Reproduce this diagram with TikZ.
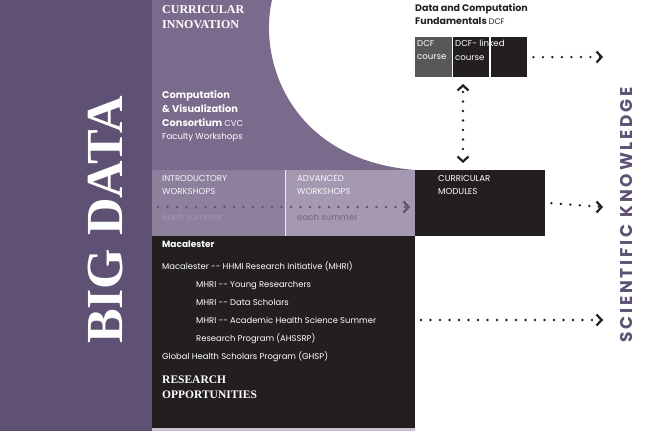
\documentclass[tikz,border=0pt]{standalone}
\usepackage{fontspec}
\setmainfont{Liberation Serif}
\newfontfamily\fut{Poppins}
\usetikzlibrary{arrows.meta,calc}
\definecolor{band}{HTML}{5E5173}
\definecolor{innov}{HTML}{7A6B8C}
\definecolor{intro}{HTML}{8D809D}
\definecolor{adv}{HTML}{A598B1}
\definecolor{blk}{HTML}{231F20}
\definecolor{gry}{HTML}{58575A}
\tikzset{
 dotline/.style={line width=2.6pt, line cap=round, dash pattern=on 0pt off 9.5pt, draw=blk},
 chev/.style={-{Straight Barb[length=5pt,width=11pt,line width=2.2pt]}, line width=2.2pt},
 wt/.style={text=white, anchor=north west, inner sep=0pt, align=left},
 body/.style={font=\fut\fontsize{8.6}{13.5}\selectfont},
}
\begin{document}
\begin{tikzpicture}[x=1pt,y=-1pt]
\useasboundingbox (0,0) rectangle (646,431);
\fill[band] (0,0) rectangle (152,431);
\fill[innov] (152,0) -- (272,0) .. controls (258,60) and (290,160) .. (415,170) -- (152,170) -- cycle;
\fill[intro] (152,170) rectangle (285,236);
\fill[adv] (285,170) rectangle (415,236);
\draw[white!80!adv, line width=0.8pt] (285,170) -- (285,236);
\fill[blk] (152,236) rectangle (415,428);
\fill[adv!60] (152,428) rectangle (415,431);
\node[fill=blk, minimum width=130pt, minimum height=66pt, anchor=north west, inner sep=0pt] (mod) at (415,170) {};
\node[wt, text=white, body] at (438,175) {CURRICULAR\\MODULES};
\node[fill=gry, minimum width=37pt, minimum height=40pt, anchor=north west, inner sep=0pt] (dcf) at (415,37) {};
\node[fill=blk, minimum width=36pt, minimum height=40pt, anchor=north west, inner sep=0pt] (lnk) at (453,37) {};
\node[fill=blk, minimum width=36pt, minimum height=40pt, anchor=north west, inner sep=0pt] (thr) at (491,37) {};
\node[wt, body] at (417,40) {DCF\\course};
\node[wt, body] at (455,40) {DCF- linked\\course};
\node[anchor=north west, inner sep=0pt, align=left, font=\fut\bfseries\fontsize{9.5}{13}\selectfont, text=blk] (dcft) at (415,4) {Data and Computation\\Fundamentals {\mdseries\fontsize{8}{13}\selectfont DCF}};
% texts
\node[wt, font=\bfseries\fontsize{12}{15}\selectfont] (ci) at (162,5) {CURRICULAR\\INNOVATION};
\node[wt, font=\fut\bfseries\fontsize{9.8}{14}\selectfont] (cvc) at (162,90) {Computation\\\& Visualization\\Consortium {\mdseries\fontsize{8.5}{14}\selectfont CVC}};
\node[wt, body] at (162,133) {Faculty Workshops};
\node[wt, body, text=white!92!intro] (iw) at (162,175) {INTRODUCTORY\\WORKSHOPS};
\node[wt, body, text=white!92!adv] (aw) at (297,175) {ADVANCED\\WORKSHOPS};
\node[wt, body, text=innov!70!white] at (162,214) {each summer};
\node[wt, body, text=intro!80!black] at (297,214) {each summer};
\node[wt, font=\fut\bfseries\fontsize{9}{12}\selectfont] (mac) at (162,241) {Macalester};
\node[wt, body, font=\fut\fontsize{8.4}{18.1}\selectfont] at (162,261) {Macalester -- HHMI Research Initiative (MHRI)\\
\hspace*{34pt}MHRI -- Young Researchers\\
\hspace*{34pt}MHRI -- Data Scholars\\
\hspace*{34pt}MHRI -- Academic Health Science Summer\\
\hspace*{34pt}Research Program (AHSSRP)\\
Global Health Scholars Program (GHSP)};
\node[wt, font=\bfseries\fontsize{11.5}{15}\selectfont] (ro) at (162,376) {RESEARCH\\OPPORTUNITIES};
\node[rotate=90, text=white, font=\bfseries\fontsize{52}{52}\selectfont, inner sep=0pt] (bd) at (106,220) {BIG DATA};
\node[rotate=90, text=band, font=\fut\bfseries\fontsize{17}{17}\selectfont, inner sep=0pt] (sk) at (627,215) {S\,C\,I\,E\,N\,T\,I\,F\,I\,C\ \ K\,N\,O\,W\,L\,E\,D\,G\,E};
% connectors
\coordinate (k1) at (603,57);
\coordinate (k2) at (603,207);
\coordinate (k3) at (603,320);
\coordinate (w0) at (158,207);
\coordinate (w1) at (410,207);
\coordinate (r0) at (421,320);
\coordinate (vt) at (463,84);
\coordinate (vb) at (463,163);
\draw[dotline] ($(thr.east)+(6,0)$) -- (k1);
\draw[chev, draw=blk] ($(k1)+(-2,0)$) -- (k1);
\draw[dotline] ($(mod.east)+(6,0)$) -- (k2);
\draw[chev, draw=blk] ($(k2)+(-2,0)$) -- (k2);
\draw[dotline] (r0) -- (k3);
\draw[chev, draw=blk] ($(k3)+(-2,0)$) -- (k3);
\draw[dotline, draw=band] (w0) -- (w1);
\draw[chev, draw=band] ($(w1)+(-2,0)$) -- (w1);
\draw[dotline] ($(vt)+(0,8)$) -- ($(vb)+(0,-8)$);
\draw[chev, draw=blk] ($(vt)+(0,2)$) -- (vt);
\draw[chev, draw=blk] ($(vb)+(0,-2)$) -- (vb);
\end{tikzpicture}
\end{document}
